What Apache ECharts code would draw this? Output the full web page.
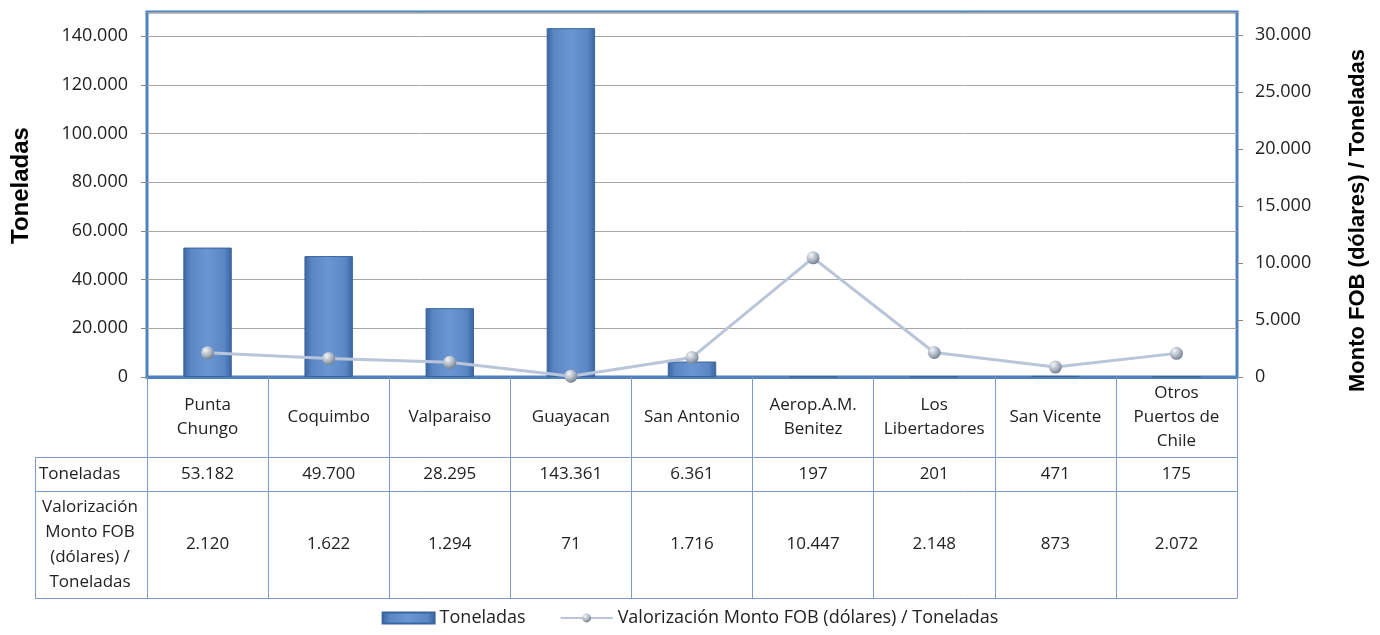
<!DOCTYPE html>
<html>
<head>
<meta charset="utf-8">
<script src="https://cdn.jsdelivr.net/npm/echarts@6/dist/echarts.min.js"></script>
<style>
  html, body { margin: 0; padding: 0; background: #fff; }
  #chart { width: 1380px; height: 635px; }
</style>
</head>
<body>
<div id="chart"></div>
<script>
    var puertos = ['Punta\nChungo', 'Coquimbo', 'Valparaiso', 'Guayacan', 'San Antonio',
        'Aerop.A.M.\nBenitez', 'Los\nLibertadores', 'San Vicente', 'Otros\nPuertos de\nChile'];
    var toneladas = [53182, 49700, 28295, 143361, 6361, 197, 201, 471, 175];
    var valorizacion = [2120, 1622, 1294, 71, 1716, 10447, 2148, 873, 2072];

    var serieBar = 'Toneladas';
    var serieLine = 'Valorización Monto FOB (dólares) / Toneladas';

    var FONT = 'Open Sans';
    var TITLE_FONT = 'Liberation Sans';
    var blue = '#4F81BD';
    var thin = '#7A9CCF';

    // miles con punto
    function fmt(v) {
        return String(v).replace(/\B(?=(\d{3})+(?!\d))/g, '.');
    }

    var chart = echarts.init(document.getElementById('chart'));

    var tableAxis = function (offset, extra) {
        return Object.assign({
            type: 'category',
            position: 'bottom',
            offset: offset,
            data: puertos,
            axisLine: {show: true, onZero: false, lineStyle: {color: thin, width: 1}},
            axisTick: {show: false},
            axisLabel: {show: false},
            splitLine: {show: false}
        }, extra || {});
    };

    var option = {
        animation: false,
        textStyle: {fontFamily: FONT},
        grid: {
            left: 147, right: 143, top: 12, bottom: 258,
            show: true, borderColor: blue, borderWidth: 3,
            containLabel: false,
            outerBoundsMode: 'none'
        },
        legend: {
            bottom: 3,
            left: 'center',
            itemGap: 34,
            itemWidth: 52,
            itemHeight: 11,
            textStyle: {fontFamily: FONT, fontSize: 18, color: '#222'},
            data: [
                {name: serieBar, icon: 'rect'},
                {name: serieLine}
            ]
        },
        xAxis: [
            {
                type: 'category',
                position: 'bottom',
                data: puertos,
                axisLine: {show: true, onZero: false, lineStyle: {color: blue, width: 3}},
                axisTick: {show: true, length: 221, interval: 0, lineStyle: {color: thin, width: 1}},
                axisLabel: {
                    interval: 0, margin: 40, verticalAlign: 'middle',
                    fontFamily: FONT, fontSize: 17, lineHeight: 24, color: '#222'
                },
                splitLine: {show: false}
            },
            tableAxis(80, {
                axisLabel: {
                    show: true, interval: 0, margin: 17, verticalAlign: 'middle',
                    fontFamily: FONT, fontSize: 17, color: '#222',
                    formatter: function (v, i) { return fmt(toneladas[i]); }
                }
            }),
            tableAxis(114, {
                axisLabel: {
                    show: true, interval: 0, margin: 53, verticalAlign: 'middle',
                    fontFamily: FONT, fontSize: 17, color: '#222',
                    formatter: function (v, i) { return fmt(valorizacion[i]); }
                }
            }),
            tableAxis(221)
        ],
        yAxis: [
            {
                type: 'value',
                min: 0, max: 150000, interval: 20000,
                name: 'Toneladas',
                nameLocation: 'middle',
                nameGap: 114,
                nameTextStyle: {
                    fontFamily: TITLE_FONT, fontSize: 24, fontWeight: 'bold', color: '#000',
                    padding: [0, 0, 0, 18]
                },
                axisLine: {show: false},
                axisTick: {show: true, length: 6, lineStyle: {color: '#888'}},
                axisLabel: {
                    fontFamily: FONT, fontSize: 18, color: '#222', margin: 19,
                    showMaxLabel: false,
                    formatter: function (v) { return fmt(v); }
                },
                splitLine: {show: true, lineStyle: {color: '#A6A6A6', width: 1}}
            },
            {
                type: 'value',
                min: 0, max: 32000, interval: 5000,
                name: 'Monto FOB (dólares) / Toneladas',
                nameLocation: 'middle',
                nameGap: 110,
                nameRotate: 90,
                nameTextStyle: {
                    fontFamily: TITLE_FONT, fontSize: 22, fontWeight: 'bold', color: '#000',
                    padding: [0, 52, 0, 0]
                },
                axisLine: {show: false},
                axisTick: {show: true, length: 6, lineStyle: {color: '#888'}},
                axisLabel: {
                    fontFamily: FONT, fontSize: 18, color: '#222', margin: 18,
                    showMaxLabel: false,
                    formatter: function (v) { return fmt(v); }
                },
                splitLine: {show: false}
            }
        ],
        series: [
            {
                name: serieBar,
                type: 'bar',
                xAxisIndex: 0,
                yAxisIndex: 0,
                barWidth: '40%',
                data: toneladas,
                itemStyle: {
                    borderColor: '#3C659E',
                    borderWidth: 1,
                    color: new echarts.graphic.LinearGradient(0, 0, 1, 0, [
                        {offset: 0, color: '#3A64A0'},
                        {offset: 0.15, color: '#5A86C4'},
                        {offset: 0.5, color: '#6A96D2'},
                        {offset: 0.85, color: '#5A86C4'},
                        {offset: 1, color: '#3A64A0'}
                    ])
                }
            },
            {
                name: serieLine,
                type: 'line',
                xAxisIndex: 0,
                yAxisIndex: 1,
                data: valorizacion,
                symbol: 'circle',
                symbolSize: 13,
                lineStyle: {color: '#B9C5D9', width: 3},
                itemStyle: {
                    color: new echarts.graphic.RadialGradient(0.35, 0.3, 0.75, [
                        {offset: 0, color: '#F4F6FA'},
                        {offset: 0.6, color: '#A8B1BF'},
                        {offset: 1, color: '#6F7A8A'}
                    ]),
                    borderWidth: 0
                },
                z: 5
            }
        ],
        graphic: [
            // columna de títulos de filas
            {type: 'line', shape: {x1: 35, y1: 457.5, x2: 147, y2: 457.5}, style: {stroke: thin, lineWidth: 1}},
            {type: 'line', shape: {x1: 35, y1: 491.5, x2: 147, y2: 491.5}, style: {stroke: thin, lineWidth: 1}},
            {type: 'line', shape: {x1: 35, y1: 598.5, x2: 147, y2: 598.5}, style: {stroke: thin, lineWidth: 1}},
            {type: 'line', shape: {x1: 35.5, y1: 457, x2: 35.5, y2: 599}, style: {stroke: thin, lineWidth: 1}},
            {
                type: 'text', x: 39, y: 474,
                style: {text: 'Toneladas', font: '17px "Open Sans"', fill: '#222', verticalAlign: 'middle'}
            },
            {
                type: 'text', x: 90, y: 545,
                style: {
                    text: 'Valorización\nMonto FOB\n(dólares) /\nToneladas',
                    font: '17px "Open Sans"', fill: '#222',
                    align: 'center', verticalAlign: 'middle', lineHeight: 25
                }
            }
        ]
    };

    chart.setOption(option);
</script>
</body>
</html>
